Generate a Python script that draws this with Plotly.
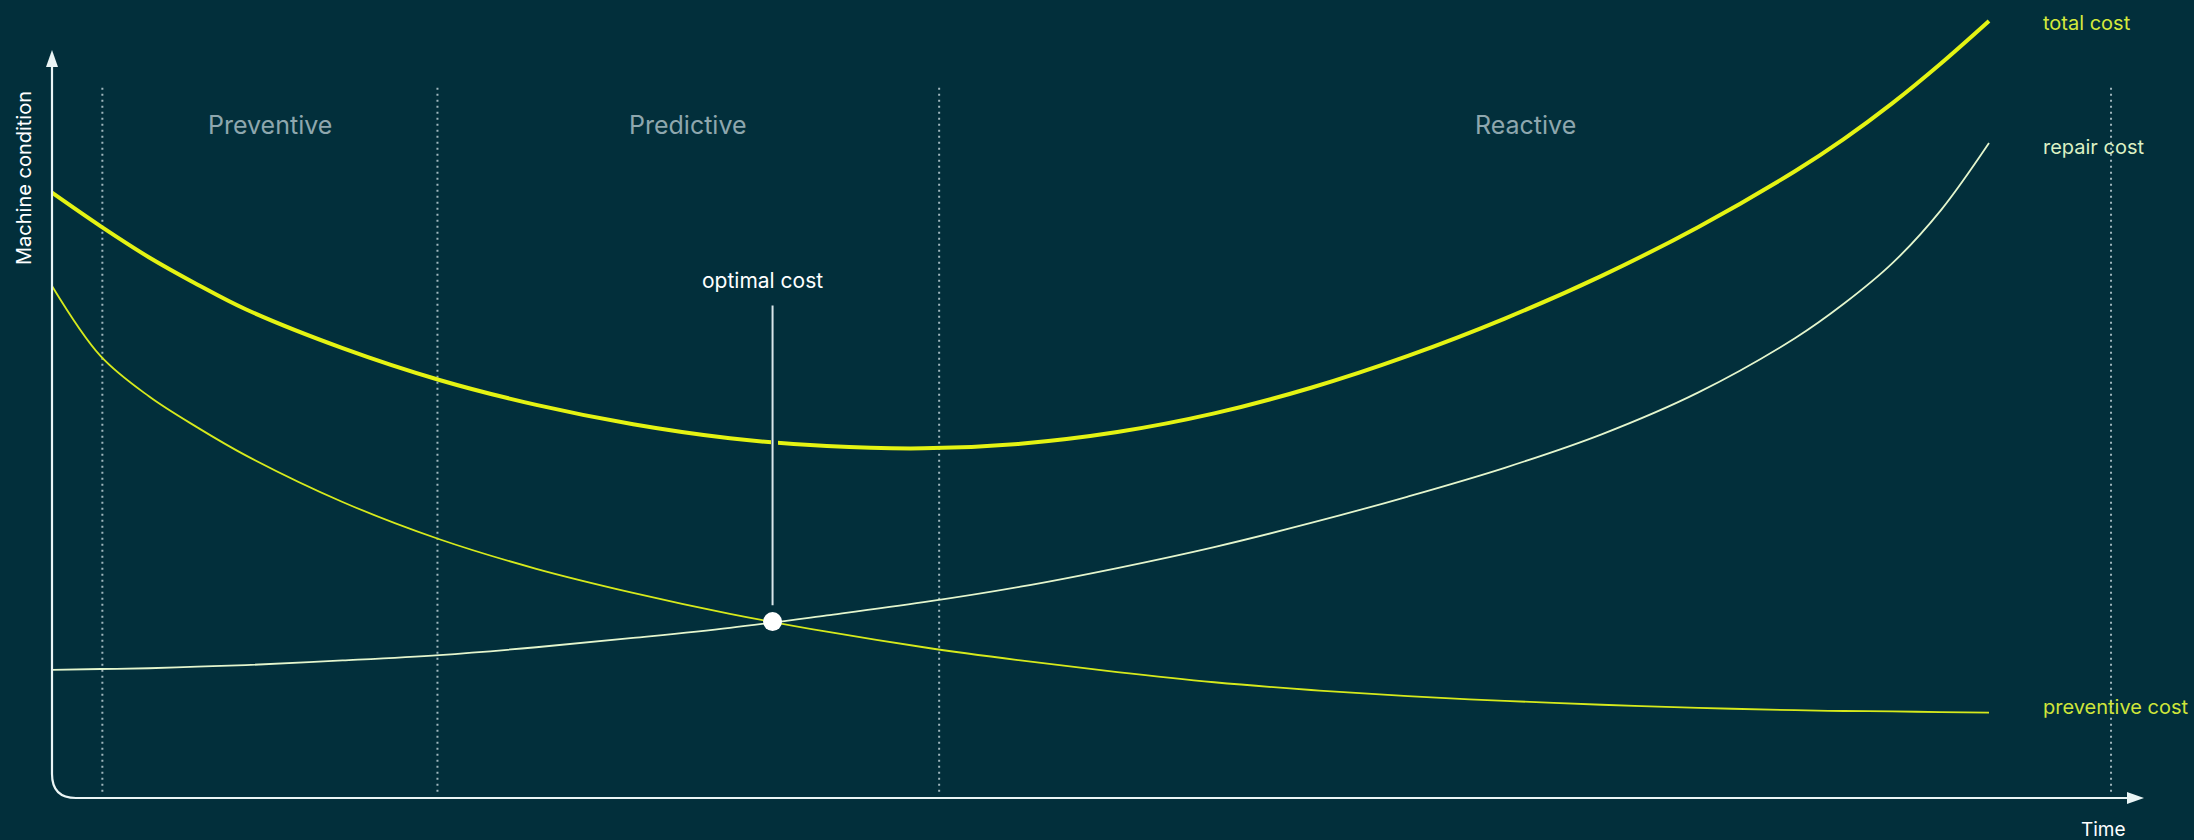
import plotly.graph_objects as go

# ---------------- data ----------------
time = [0, 2.5, 5, 7.5, 10, 15, 20, 25, 30, 35, 40, 45, 50, 55, 60, 65, 70, 75, 80, 85, 90, 92.5, 95, 97.5, 100]
total_cost = [77.9, 73.6, 69.6, 66.1, 62.9, 57.9, 53.8, 50.6, 48.1, 46.3, 45.3, 45.0, 45.6, 47.1,
              49.5, 52.8, 56.9, 61.7, 67.2, 73.5, 80.7, 84.8, 89.4, 94.5, 100.0]
preventive_cost = [65.9, 56.9, 51.7, 47.7, 44.1, 38.1, 33.3, 29.5, 26.4, 23.7, 21.4, 19.4, 17.7,
                   16.2, 14.9, 13.9, 13.1, 12.5, 12.0, 11.6, 11.3, 11.2, 11.15, 11.05, 11.0]
repair_cost = [16.5, 16.6, 16.7, 16.9, 17.1, 17.7, 18.4, 19.4, 20.6, 21.9, 23.5, 25.2, 27.2, 29.6,
               32.3, 35.4, 38.8, 42.5, 46.8, 52.2, 59.2, 63.6, 68.8, 75.6, 84.3]

phase_names = ["Preventive", "Predictive", "Reactive"]
phase_bounds = [2.6, 19.9, 45.8, 106.3]

optimal_time = 37.2
optimal_cost = 22.7
optimal_label = "optimal cost"

series_labels = ["total cost", "repair cost", "preventive cost"]
axis_titles = ["Machine condition", "Time"]

# ---------------- styling ----------------
W, H = 2194, 840
BG = "#022f3b"
FONT = "Inter"
C_TOTAL = "#e4f313"
C_PREV = "#d6ea1c"
C_REPAIR = "#e4f6cd"
C_AXIS = "#eaf5f5"
C_DOT = "#9fb6bd"
C_PHASE = "#8ea7ae"


def px(x):
    return x / W


def py(y):
    return 1 - y / H


fig = go.Figure()

fig.add_trace(go.Scatter(x=time, y=preventive_cost, mode="lines",
                         line=dict(color=C_PREV, width=1.8, shape="spline", smoothing=1.0),
                         hoverinfo="skip"))
fig.add_trace(go.Scatter(x=time, y=repair_cost, mode="lines",
                         line=dict(color=C_REPAIR, width=1.8, shape="spline", smoothing=1.0),
                         hoverinfo="skip"))
fig.add_trace(go.Scatter(x=time, y=total_cost, mode="lines",
                         line=dict(color=C_TOTAL, width=4, shape="spline", smoothing=1.0),
                         hoverinfo="skip"))

shapes = []
# phase boundaries (dotted)
for b in phase_bounds:
    shapes.append(dict(type="line", xref="x", yref="y", x0=b, x1=b, y0=0.8, y1=91.4,
                       line=dict(color=C_DOT, width=2, dash="2px,4px"), layer="below"))

# optimal cost pointer line (with background halo to cut the total line)
shapes.append(dict(type="line", xref="x", yref="y", x0=optimal_time + 0.1, x1=optimal_time + 0.1,
                   y0=30, y1=50, line=dict(color=BG, width=7)))
shapes.append(dict(type="line", xref="x", yref="y", x0=optimal_time, x1=optimal_time,
                   y0=optimal_cost + 2.1, y1=63.4, line=dict(color="#d9e6ea", width=2)))

# axes with rounded corner
shapes.append(dict(type="path", xref="paper", yref="paper",
                   path=f"M {px(52)},{py(58)} L {px(52)},{py(774)} Q {px(52)},{py(798)} {px(76)},{py(798)} L {px(2132)},{py(798)}",
                   line=dict(color=C_AXIS, width=2.2)))
# arrow heads
shapes.append(dict(type="path", xref="paper", yref="paper",
                   path=f"M {px(46)},{py(67)} L {px(52)},{py(50)} L {px(58)},{py(67)} Z",
                   line=dict(color=C_AXIS, width=0), fillcolor=C_AXIS))
shapes.append(dict(type="path", xref="paper", yref="paper",
                   path=f"M {px(2127)},{py(792)} L {px(2144)},{py(798)} L {px(2127)},{py(804)} Z",
                   line=dict(color=C_AXIS, width=0), fillcolor=C_AXIS))

# optimal point
fig.add_trace(go.Scatter(x=[optimal_time], y=[optimal_cost], mode="markers",
                         marker=dict(color="#ffffff", size=19, line=dict(width=0)),
                         hoverinfo="skip"))

annotations = []
for i, name in enumerate(phase_names):
    annotations.append(dict(x=(phase_bounds[i] + phase_bounds[i + 1]) / 2, y=86.6, xref="x", yref="y",
                            text=name, showarrow=False, xanchor="center", yanchor="middle",
                            font=dict(family=FONT, size=25, color=C_PHASE)))

annotations.append(dict(x=optimal_time - 0.5, y=66.6, xref="x", yref="y", text=optimal_label,
                        showarrow=False, xanchor="center", yanchor="middle",
                        font=dict(family=FONT, size=21, color="#ffffff")))

label_colors = ["#d4e93c", "#dcf1c4", "#cfe53a"]
label_vals = [total_cost[-1] - 0.3, repair_cost[-1] - 0.5, preventive_cost[-1] + 0.7]
for lab, val, col in zip(series_labels, label_vals, label_colors):
    annotations.append(dict(x=102.7, y=val, xref="x", yref="y", text=lab, showarrow=False,
                            xanchor="left", yanchor="middle",
                            font=dict(family=FONT, size=20, color=col)))

annotations.append(dict(x=px(24), y=py(178), xref="paper", yref="paper", text=axis_titles[0],
                        textangle=-90, showarrow=False, xanchor="center", yanchor="middle",
                        font=dict(family=FONT, size=20, color="#ffffff")))
annotations.append(dict(x=px(2103), y=py(829), xref="paper", yref="paper", text=axis_titles[1],
                        showarrow=False, xanchor="center", yanchor="middle",
                        font=dict(family=FONT, size=19, color="#ffffff")))

fig.update_layout(
    width=W, height=H,
    margin=dict(l=0, r=0, t=0, b=0),
    paper_bgcolor=BG, plot_bgcolor=BG,
    showlegend=False,
    shapes=shapes,
    annotations=annotations,
    xaxis=dict(range=[-52 / 19.37, (W - 52) / 19.37], visible=False, fixedrange=True),
    yaxis=dict(range=[-(H - 798) / 7.77, 798 / 7.77], visible=False, fixedrange=True),
)

fig.write_html("out.html", config=dict(displayModeBar=False, staticPlot=True),
               post_script="document.body.style.margin='0';document.body.style.overflow='hidden';")
